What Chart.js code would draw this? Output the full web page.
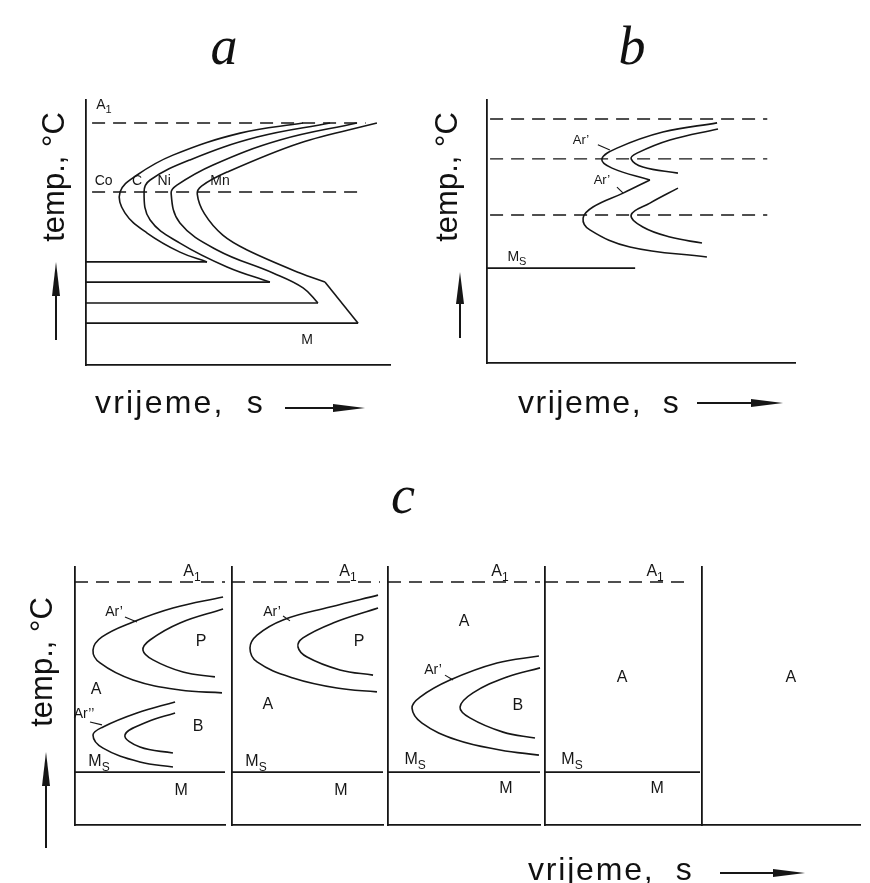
<!DOCTYPE html>
<html>
<head>
<meta charset="utf-8">
<script src="https://cdn.jsdelivr.net/npm/chart.js@4.4.1/dist/chart.umd.min.js"></script>
<style>
  html, body { margin: 0; padding: 0; background: #fff; }
  #page { position: relative; width: 870px; height: 883px; overflow: hidden; background: #fff; }
  .box { position: absolute; }
  .ttl { position: absolute; font: italic 54px "Liberation Serif", serif; color: #111; line-height: 1; transform: translate(-50%, -50%); }
  .ax { position: absolute; font: 32px "Liberation Sans", Arial, sans-serif; color: #111; white-space: pre; line-height: 32px; }
  .ax.v { transform: translate(-50%, -50%) rotate(-90deg); letter-spacing: 0; font-size: 31px; }
  .arr { position: absolute; }
</style>
</head>
<body>
<div id="page"></div>
<script>
// TTT diagrams: a = alloying elements, b = two noses, c = five steel types
const INK = '#161616';
const FONT = '"Liberation Sans", Arial, sans-serif';

// ── panel a (time 0..100, temp 0..100) ──
const aCo = [[71.4,91.3],[50.7,87.5],[28.6,79.2],[16.8,71.7],[11.2,65.3],[12.8,57.4],[20.1,49.8],[30.9,42.6],[39.8,38.9]];
const aC  = [[80.3,91.3],[56.3,86.0],[34.2,77.4],[21.1,69.8],[19.1,65.3],[21.1,54.7],[30.9,46.0],[46.4,37.0],[60.5,31.3]];
const aNi = [[89.1,91.3],[63.8,84.9],[41.8,75.5],[29.9,67.9],[28.0,64.9],[30.9,53.6],[43.1,43.4],[61.5,34.7],[71.4,29.1],[76.3,23.4]];
const aMn = [[95.7,91.3],[70.4,83.8],[46.4,72.8],[38.0,67.5],[36.6,64.5],[39.0,57.0],[45.0,49.0],[53.0,43.4],[70.4,34.7],[78.6,31.3]];
const aMnTail = [[78.6,31.3],[89.5,15.8]];
const aQuench = [[39.8,38.9],[60.5,31.3],[76.3,23.4],[89.5,15.8]];   // end x, temp
const aDashed = [[91.3, 2, 92], [65.3, 2, 91]];                        // temp, from, to
const aNotes = [
  {t:'A', sub:'1', x:5.9, y:98}, {t:'Co', x:5.8, y:69.4}, {t:'C', x:16.8, y:69.4},
  {t:'Ni', x:25.7, y:69.4}, {t:'Mn', x:44.1, y:69.4}, {t:'M', x:72.7, y:9.4}
];

// ── panel b ──
const bOuterTop = [[74.7,91.3],[57.1,87.8],[42.2,81.7],[37.3,77.6],[40.6,74.1],[52.9,69.6]];
const bOuterLow = [[52.9,69.6],[44.2,64.6],[34.4,59.3],[31.2,55.1],[33.4,50.6],[46.4,44.1],[71.4,40.3]];
const bInnerTop = [[75.0,89.0],[59.4,84.8],[48.7,79.8],[46.8,77.6],[50.6,74.5],[62.0,72.2]];
const bInnerLow = [[62.0,66.5],[52.9,60.8],[46.8,56.3],[50.6,51.7],[59.4,47.9],[69.8,45.6]];
const bDashed = [[92.8, 1, 91], [77.6, 1, 91], [56.3, 1, 91]];
const bMs = [36.1, 0, 48.1];
const bLeaders = [[[36.0,83.0],[39.9,81.0]], [[42.2,66.9],[44.2,64.6]]];
const bNotes = [
  {t:'Ar’', x:30.5, y:84.8}, {t:'Ar’', x:37.3, y:69.6}, {t:'M', sub:'S', x:9.7, y:40.3, size:14}
];

// ── panel c: five sub-diagrams ──
const cA1 = 94.2, cMs = 20.5;
const c1Pout = [[98.7,88.4],[65.3,84.1],[38.7,78.7],[18.0,72.9],[12.0,67.8],[16.7,62.8],[38.7,56.2],[70.0,52.3],[98.0,51.2]];
const c1Pin  = [[98.7,83.7],[70.0,78.3],[50.0,71.7],[45.3,67.8],[52.0,64.0],[72.0,59.3],[93.3,57.4]];
const c1Bout = [[66.7,47.7],[41.3,43.4],[18.7,38.0],[12.0,34.9],[18.7,29.8],[43.3,24.4],[65.3,22.5]];
const c1Bin  = [[66.7,43.4],[48.0,39.9],[33.3,34.9],[43.3,30.2],[65.3,27.9]];
const c2Pout = [[96.7,89.1],[64.9,84.5],[33.8,79.5],[16.6,73.6],[11.9,68.6],[16.6,63.2],[40.4,57.0],[69.5,53.1],[96.0,51.6]];
const c2Pin  = [[96.7,84.1],[66.9,78.3],[47.0,72.5],[43.7,69.0],[49.7,65.1],[71.5,60.1],[93.4,58.1]];
const c3Bout = [[99.3,65.5],[71.7,62.8],[40.8,56.2],[21.1,49.6],[15.8,45.3],[22.4,39.5],[45.4,32.9],[73.7,29.1],[99.3,27.1]];
const c3Bin  = [[100,60.9],[78.3,57.4],[55.9,51.2],[47.4,45.7],[53.9,41.5],[75.7,36.0],[96.7,33.7]];
const cDashEnd = [100, 98, 100, 93];
const c1Notes = [
  {t:'A', sub:'1', x:78, y:98.1}, {t:'Ar’', x:26, y:82.6, size:14}, {t:'P', x:84, y:70.9},
  {t:'A', x:14, y:52.3}, {t:'Ar’’', x:6, y:43.0, size:14}, {t:'B', x:82, y:38.0},
  {t:'M', sub:'S', x:16, y:24.4}, {t:'M', x:70.7, y:13.2}
];
const c2Notes = [
  {t:'A', sub:'1', x:76.8, y:98.1}, {t:'Ar’', x:26.5, y:82.6, size:14}, {t:'P', x:84.1, y:70.9},
  {t:'A', x:23.8, y:46.5}, {t:'M', sub:'S', x:15.9, y:24.4}, {t:'M', x:72.2, y:13.2}
];
const c3Notes = [
  {t:'A', sub:'1', x:73.7, y:98.1}, {t:'A', x:50, y:78.7}, {t:'Ar’', x:29.6, y:60.1, size:14},
  {t:'B', x:85.5, y:46.1}, {t:'M', sub:'S', x:17.8, y:25.2}, {t:'M', x:77.6, y:14.3}
];
const c4Notes = [
  {t:'A', sub:'1', x:71, y:98.1}, {t:'A', x:49.7, y:57.0}, {t:'M', sub:'S', x:17.4, y:25.2}, {t:'M', x:72.3, y:14.3}
];
const c5Notes = [{t:'A', x:56.3, y:57.0}];
const c1Leaders = [[[33.3,80.6],[41.3,78.7]], [[10,39.9],[18,38.8]]];
const c2Leaders = [[[33.8,81.0],[38.4,79.1]]];
const c3Leaders = [[[37.5,58.1],[42.8,56.2]]];

// ── helpers ──
const page = document.getElementById('page');

function curve(pts, tension = 0.4) {
  return { data: pts.map(([x, y]) => ({x, y})), showLine: true, borderColor: INK,
           borderWidth: 1.6, pointRadius: 0, tension, clip: false };
}
function hline(y, x1, x2, dash) {
  return { data: [{x: x1, y}, {x: x2, y}], showLine: true, borderColor: INK,
           borderWidth: dash ? 1.4 : 1.7, borderDash: dash ? [13, 8] : [], pointRadius: 0, clip: false };
}
function seg(p, width = 1.1) {
  return { data: p.map(([x, y]) => ({x, y})), showLine: true, borderColor: INK,
           borderWidth: width, pointRadius: 0, clip: false };
}

const notesPlugin = {
  id: 'notes',
  afterDatasetsDraw(chart, args, opts) {
    const {ctx, scales: {x, y}} = chart;
    ctx.save();
    ctx.fillStyle = INK;
    ctx.textBaseline = 'middle';
    (opts.items || []).forEach(it => {
      const px = x.getPixelForValue(it.x), py = y.getPixelForValue(it.y);
      const size = it.size || opts.size;
      const main = `${size}px ${FONT}`, small = `${Math.round(size * 0.78)}px ${FONT}`;
      ctx.font = main;
      const w = ctx.measureText(it.t).width;
      let ws = 0;
      if (it.sub) { ctx.font = small; ws = ctx.measureText(it.sub).width; }
      const start = px - (w + ws) / 2;
      ctx.textAlign = 'left';
      ctx.font = main;
      ctx.fillText(it.t, start, py);
      if (it.sub) { ctx.font = small; ctx.fillText(it.sub, start + w, py + size * 0.35); }
    });
    ctx.restore();
  }
};

function axis(pos) {
  return { type: 'linear', position: pos, min: 0, max: 100,
           ticks: { display: false }, grid: { display: false, drawTicks: false },
           border: { display: true, color: INK, width: 1.8 } };
}

function panel(box, datasets, notes, size) {
  const P = 30;
  const wrap = document.createElement('div');
  wrap.className = 'box';
  wrap.style.left = (box.left - P) + 'px';
  wrap.style.top = (box.top - P) + 'px';
  const cv = document.createElement('canvas');
  cv.width = box.w + 2 * P;
  cv.height = box.h + 2 * P;
  wrap.appendChild(cv);
  page.appendChild(wrap);
  new Chart(cv, {
    type: 'scatter',
    data: { datasets },
    options: {
      responsive: false, animation: false, events: [],
      layout: { padding: P },
      plugins: { legend: { display: false }, tooltip: { enabled: false }, notes: { items: notes, size } },
      scales: { x: axis('bottom'), y: axis('left') }
    },
    plugins: [notesPlugin]
  });
}

function html(cls, text, css) {
  const d = document.createElement('div');
  d.className = cls;
  d.textContent = text;
  d.style.cssText += css;
  page.appendChild(d);
}
function hArrow(x1, x2, y, head) {
  const d = document.createElement('div');
  d.className = 'arr';
  d.style.cssText = `left:${x1}px;top:${y - 4}px;width:${x2 - x1}px;height:8px;`;
  d.innerHTML = `<div style="position:absolute;left:0;top:3px;height:1.6px;width:${x2 - x1 - head + 2}px;background:${INK}"></div>` +
    `<div style="position:absolute;right:0;top:0;width:0;height:0;border-top:4px solid transparent;border-bottom:4px solid transparent;border-left:${head}px solid ${INK}"></div>`;
  page.appendChild(d);
}
function vArrow(x, y1, y2, head) {
  const d = document.createElement('div');
  d.className = 'arr';
  d.style.cssText = `left:${x - 4}px;top:${y1}px;width:8px;height:${y2 - y1}px;`;
  d.innerHTML = `<div style="position:absolute;left:3.2px;bottom:0;width:1.6px;height:${y2 - y1 - head + 2}px;background:${INK}"></div>` +
    `<div style="position:absolute;top:0;left:0;width:0;height:0;border-left:4px solid transparent;border-right:4px solid transparent;border-bottom:${head}px solid ${INK}"></div>`;
  page.appendChild(d);
}

// ── panel a ──
panel({left: 86, top: 100, w: 304, h: 265}, [
  ...aDashed.map(([t, a, b]) => hline(t, a, b, true)),
  curve(aCo), curve(aC), curve(aNi), curve(aMn, 0.35), seg(aMnTail, 1.6),
  ...aQuench.map(([x, t]) => hline(t, 0, x, false))
], aNotes, 14);

// ── panel b ──
panel({left: 487, top: 100, w: 308, h: 263}, [
  ...bDashed.map(([t, a, b]) => hline(t, a, b, true)),
  curve(bOuterTop), curve(bOuterLow), curve(bInnerTop), curve(bInnerLow),
  hline(bMs[0], bMs[1], bMs[2], false),
  ...bLeaders.map(l => seg(l))
], bNotes, 13);

// ── panel c ──
const cBoxes = [
  {left: 75, top: 567, w: 150, h: 258}, {left: 232, top: 567, w: 151, h: 258},
  {left: 388, top: 567, w: 152, h: 258}, {left: 545, top: 567, w: 155, h: 258},
  {left: 702, top: 567, w: 158, h: 258}
];
const cCurves = [[c1Pout, c1Pin, c1Bout, c1Bin], [c2Pout, c2Pin], [c3Bout, c3Bin], [], []];
const cLeaders = [c1Leaders, c2Leaders, c3Leaders, [], []];
const cNotes = [c1Notes, c2Notes, c3Notes, c4Notes, c5Notes];
cBoxes.forEach((box, i) => {
  const ds = [];
  if (i < 4) ds.push(hline(cA1, 0, cDashEnd[i], true));
  cCurves[i].forEach(c => ds.push(curve(c)));
  if (i < 4) ds.push(hline(cMs, 0, 100, false));
  cLeaders[i].forEach(l => ds.push(seg(l)));
  panel(box, ds, cNotes[i], 16);
});

// ── titles and axis captions ──
html('ttl', 'a', 'left:224px;top:46px;');
html('ttl', 'b', 'left:632px;top:46px;');
html('ttl', 'c', 'left:403px;top:495px;');

html('ax v', 'temp., °C', 'left:54px;top:177px;');
html('ax v', 'temp., °C', 'left:447px;top:177px;');
html('ax v', 'temp., °C', 'left:42px;top:662px;');

html('ax', 'vrijeme,  s', 'left:95px;top:386px;letter-spacing:2.2px;');
html('ax', 'vrijeme,  s', 'left:518px;top:386px;letter-spacing:1.5px;');
html('ax', 'vrijeme,  s', 'left:528px;top:853px;letter-spacing:1.8px;');

vArrow(56, 262, 340, 34);
vArrow(460, 272, 338, 32);
vArrow(46, 752, 848, 34);
hArrow(285, 365, 408, 32);
hArrow(697, 783, 403, 32);
hArrow(720, 805, 873, 32);
</script>
</body>
</html>
